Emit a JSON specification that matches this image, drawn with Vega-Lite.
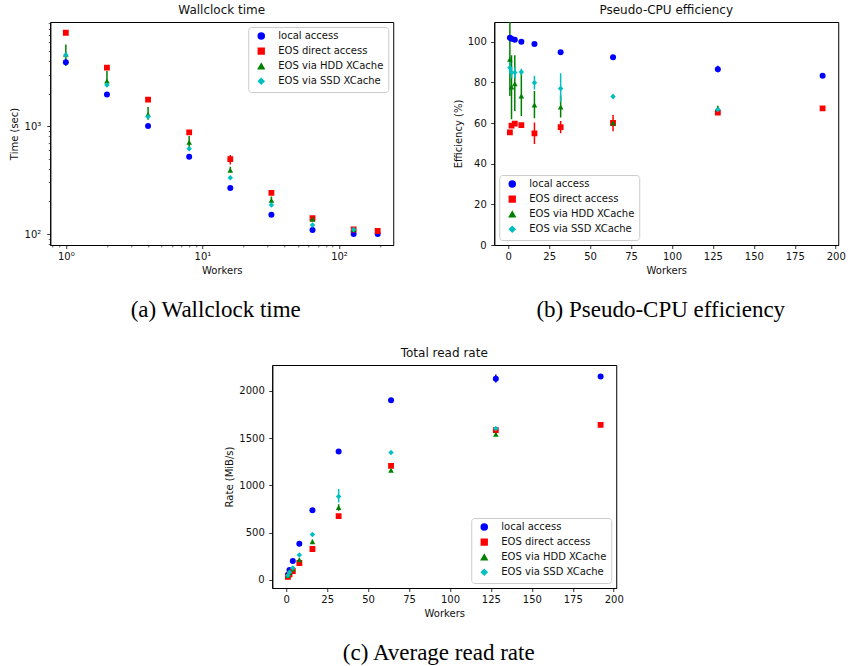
{
  "$schema": "https://vega.github.io/schema/vega-lite/v6.json",
  "background": "white",
  "padding": {"left": 8, "top": 3, "right": 5, "bottom": 5},
  "datasets": {
    "time": [
      {"w":1,"s":"local access","v":3890,"lo":3890,"hi":3890},
      {"w":2,"s":"local access","v":1963,"lo":1963,"hi":1963},
      {"w":4,"s":"local access","v":1000,"lo":1000,"hi":1000},
      {"w":8,"s":"local access","v":520,"lo":520,"hi":520},
      {"w":16,"s":"local access","v":267,"lo":267,"hi":267},
      {"w":32,"s":"local access","v":151,"lo":151,"hi":151},
      {"w":64,"s":"local access","v":109,"lo":109,"hi":109},
      {"w":128,"s":"local access","v":100,"lo":100,"hi":100},
      {"w":192,"s":"local access","v":100,"lo":100,"hi":100},
      {"w":1,"s":"EOS direct access","v":7310,"lo":7310,"hi":7310},
      {"w":2,"s":"EOS direct access","v":3470,"lo":3470,"hi":3470},
      {"w":4,"s":"EOS direct access","v":1754,"lo":1754,"hi":1754},
      {"w":8,"s":"EOS direct access","v":874,"lo":874,"hi":874},
      {"w":16,"s":"EOS direct access","v":494,"lo":441,"hi":538},
      {"w":32,"s":"EOS direct access","v":240,"lo":240,"hi":240},
      {"w":64,"s":"EOS direct access","v":140,"lo":134,"hi":147},
      {"w":128,"s":"EOS direct access","v":110,"lo":110,"hi":110},
      {"w":192,"s":"EOS direct access","v":106.6,"lo":106.6,"hi":106.6},
      {"w":1,"s":"EOS via HDD XCache","v":4617,"lo":3594,"hi":5700},
      {"w":2,"s":"EOS via HDD XCache","v":2610,"lo":2297,"hi":3228},
      {"w":4,"s":"EOS via HDD XCache","v":1283,"lo":1144,"hi":1500},
      {"w":8,"s":"EOS via HDD XCache","v":706,"lo":630,"hi":808},
      {"w":16,"s":"EOS via HDD XCache","v":389,"lo":375,"hi":420},
      {"w":32,"s":"EOS via HDD XCache","v":205,"lo":195,"hi":222},
      {"w":64,"s":"EOS via HDD XCache","v":137,"lo":137,"hi":137},
      {"w":128,"s":"EOS via HDD XCache","v":110,"lo":110,"hi":110},
      {"w":1,"s":"EOS via SSD XCache","v":4550,"lo":4550,"hi":4550},
      {"w":2,"s":"EOS via SSD XCache","v":2398,"lo":2398,"hi":2398},
      {"w":4,"s":"EOS via SSD XCache","v":1219,"lo":1219,"hi":1219},
      {"w":8,"s":"EOS via SSD XCache","v":617,"lo":617,"hi":617},
      {"w":16,"s":"EOS via SSD XCache","v":332,"lo":332,"hi":332},
      {"w":32,"s":"EOS via SSD XCache","v":186,"lo":178,"hi":196},
      {"w":64,"s":"EOS via SSD XCache","v":121,"lo":121,"hi":121},
      {"w":128,"s":"EOS via SSD XCache","v":110,"lo":110,"hi":110}
    ],
    "eff": [
      {"w":1,"s":"local access","v":102.0,"lo":102.0,"hi":102.0},
      {"w":2,"s":"local access","v":101.5,"lo":101.5,"hi":101.5},
      {"w":4,"s":"local access","v":101.0,"lo":101.0,"hi":101.0},
      {"w":8,"s":"local access","v":100.0,"lo":100.0,"hi":100.0},
      {"w":16,"s":"local access","v":98.9,"lo":98.9,"hi":98.9},
      {"w":32,"s":"local access","v":94.8,"lo":94.8,"hi":94.8},
      {"w":64,"s":"local access","v":92.3,"lo":92.3,"hi":92.3},
      {"w":128,"s":"local access","v":86.4,"lo":85.0,"hi":88.2},
      {"w":192,"s":"local access","v":83.3,"lo":82.8,"hi":84.0},
      {"w":1,"s":"EOS direct access","v":55.4,"lo":55.4,"hi":55.4},
      {"w":2,"s":"EOS direct access","v":58.7,"lo":58.7,"hi":58.7},
      {"w":4,"s":"EOS direct access","v":59.7,"lo":59.7,"hi":59.7},
      {"w":8,"s":"EOS direct access","v":59.0,"lo":59.0,"hi":59.0},
      {"w":16,"s":"EOS direct access","v":54.9,"lo":49.7,"hi":60.2},
      {"w":32,"s":"EOS direct access","v":58.0,"lo":55.0,"hi":61.0},
      {"w":64,"s":"EOS direct access","v":60.0,"lo":56.0,"hi":64.0},
      {"w":128,"s":"EOS direct access","v":65.1,"lo":65.1,"hi":65.1},
      {"w":192,"s":"EOS direct access","v":67.2,"lo":66.5,"hi":68.0},
      {"w":1,"s":"EOS via HDD XCache","v":91.3,"lo":73.3,"hi":112.0},
      {"w":2,"s":"EOS via HDD XCache","v":77.7,"lo":61.8,"hi":93.3},
      {"w":4,"s":"EOS via HDD XCache","v":79.3,"lo":65.9,"hi":93.3},
      {"w":8,"s":"EOS via HDD XCache","v":73.3,"lo":63.4,"hi":84.8},
      {"w":16,"s":"EOS via HDD XCache","v":68.9,"lo":62.3,"hi":75.7},
      {"w":32,"s":"EOS via HDD XCache","v":67.9,"lo":62.7,"hi":73.5},
      {"w":64,"s":"EOS via HDD XCache","v":60.0,"lo":58.5,"hi":61.5},
      {"w":128,"s":"EOS via HDD XCache","v":67.2,"lo":66.0,"hi":68.5},
      {"w":1,"s":"EOS via SSD XCache","v":87.2,"lo":84.5,"hi":90.0},
      {"w":2,"s":"EOS via SSD XCache","v":84.8,"lo":82.0,"hi":87.5},
      {"w":4,"s":"EOS via SSD XCache","v":84.8,"lo":82.0,"hi":87.5},
      {"w":8,"s":"EOS via SSD XCache","v":85.1,"lo":83.5,"hi":86.7},
      {"w":16,"s":"EOS via SSD XCache","v":79.8,"lo":76.5,"hi":83.2},
      {"w":32,"s":"EOS via SSD XCache","v":77.0,"lo":70.3,"hi":84.5},
      {"w":64,"s":"EOS via SSD XCache","v":73.1,"lo":72.0,"hi":74.2},
      {"w":128,"s":"EOS via SSD XCache","v":66.6,"lo":66.6,"hi":66.6}
    ],
    "rate": [
      {"w":1,"s":"local access","v":53,"lo":53,"hi":53},
      {"w":2,"s":"local access","v":102,"lo":102,"hi":102},
      {"w":4,"s":"local access","v":198,"lo":198,"hi":198},
      {"w":8,"s":"local access","v":380,"lo":380,"hi":380},
      {"w":16,"s":"local access","v":737,"lo":737,"hi":737},
      {"w":32,"s":"local access","v":1358,"lo":1358,"hi":1358},
      {"w":64,"s":"local access","v":1901,"lo":1901,"hi":1901},
      {"w":128,"s":"local access","v":2130,"lo":2090,"hi":2175},
      {"w":192,"s":"local access","v":2152,"lo":2152,"hi":2152},
      {"w":1,"s":"EOS direct access","v":29,"lo":29,"hi":29},
      {"w":2,"s":"EOS direct access","v":57,"lo":57,"hi":57},
      {"w":4,"s":"EOS direct access","v":92,"lo":92,"hi":92},
      {"w":8,"s":"EOS direct access","v":177,"lo":177,"hi":177},
      {"w":16,"s":"EOS direct access","v":325,"lo":325,"hi":325},
      {"w":32,"s":"EOS direct access","v":674,"lo":674,"hi":674},
      {"w":64,"s":"EOS direct access","v":1206,"lo":1206,"hi":1206},
      {"w":128,"s":"EOS direct access","v":1585,"lo":1585,"hi":1585},
      {"w":192,"s":"EOS direct access","v":1640,"lo":1640,"hi":1640},
      {"w":1,"s":"EOS via HDD XCache","v":45,"lo":45,"hi":45},
      {"w":2,"s":"EOS via HDD XCache","v":75,"lo":75,"hi":75},
      {"w":4,"s":"EOS via HDD XCache","v":113,"lo":113,"hi":113},
      {"w":8,"s":"EOS via HDD XCache","v":212,"lo":200,"hi":225},
      {"w":16,"s":"EOS via HDD XCache","v":402,"lo":380,"hi":425},
      {"w":32,"s":"EOS via HDD XCache","v":765,"lo":730,"hi":800},
      {"w":64,"s":"EOS via HDD XCache","v":1160,"lo":1160,"hi":1160},
      {"w":128,"s":"EOS via HDD XCache","v":1541,"lo":1520,"hi":1565},
      {"w":1,"s":"EOS via SSD XCache","v":45,"lo":45,"hi":45},
      {"w":2,"s":"EOS via SSD XCache","v":80,"lo":80,"hi":80},
      {"w":4,"s":"EOS via SSD XCache","v":124,"lo":124,"hi":124},
      {"w":8,"s":"EOS via SSD XCache","v":262,"lo":262,"hi":262},
      {"w":16,"s":"EOS via SSD XCache","v":480,"lo":465,"hi":495},
      {"w":32,"s":"EOS via SSD XCache","v":882,"lo":818,"hi":960},
      {"w":64,"s":"EOS via SSD XCache","v":1347,"lo":1347,"hi":1347},
      {"w":128,"s":"EOS via SSD XCache","v":1601,"lo":1601,"hi":1601}
    ]
  },
  "config": {
    "font": "DejaVu Sans",
    "view": {"stroke": "black", "strokeWidth": 1},
    "axis": {"grid": false, "domainColor": "black", "domainWidth": 1, "tickColor": "black", "tickSize": 3.5, "tickWidth": 0.8, "labelColor": "#111111", "labelFontSize": 10, "labelFont": "DejaVu Sans", "titleFont": "DejaVu Sans", "titleFontSize": 10, "titleFontWeight": "normal", "titleColor": "#111111", "labelPadding": 3, "titlePadding": 4, "labelFlush": false, "labelOverlap": false},
    "axisX": {"labelAngle": 0},
    "axisY": {"labelPadding": 4.5},
    "title": {"font": "DejaVu Sans", "fontSize": 12, "fontWeight": "normal", "color": "#111111", "offset": 5},
    "legend": {"strokeColor": "#cccccc", "fillColor": "white", "cornerRadius": 3, "padding": 4, "labelFontSize": 10, "labelFont": "DejaVu Sans", "labelColor": "#111111", "rowPadding": 3.1, "labelOffset": 12, "symbolOffset": 4, "offset": 5}
  },
  "resolve": {"scale": {"color": "independent", "shape": "independent", "size": "independent"}},
  "center": true,
  "spacing": 24,
  "vconcat": [
    {
      "spacing": 58,
      "resolve": {"scale": {"color": "independent", "shape": "independent", "size": "independent"}},
      "hconcat": [
        {
          "title": {"text": "Wallclock time"},
          "width": 343,
          "height": 223,
          "data": {"name": "time"},
          "resolve": {"axis": {"x": "independent", "y": "independent"}},
          "layer": [
            {
              "mark": {"type": "rule", "strokeWidth": 1.5, "clip": true},
              "encoding": {
                "x": {"field": "w", "type": "quantitative", "scale": {"type": "log", "domain": [0.769, 249.6], "nice": false, "zero": false}, "axis": {"orient": "bottom", "values": [0.8, 0.9, 2, 3, 4, 5, 6, 7, 8, 9, 20, 30, 40, 50, 60, 70, 80, 90, 200], "labels": false, "domain": false, "tickSize": 2, "tickWidth": 0.6, "title": "(a) Wallclock time", "titleFont": "Liberation Serif", "titleFontSize": 23, "titleColor": "black", "titlePadding": 51, "titleX": 165}},
                "y": {"field": "lo", "type": "quantitative", "scale": {"type": "log", "domain": [79.1, 9190], "nice": false, "zero": false}, "axis": {"orient": "left", "values": [80, 90, 200, 300, 400, 500, 600, 700, 800, 900, 2000, 3000, 4000, 5000, 6000, 7000, 8000, 9000], "labels": false, "domain": false, "tickSize": 2, "tickWidth": 0.6, "title": null}},
                "y2": {"field": "hi"},
                "color": {"field": "s", "type": "nominal", "scale": {"domain": ["local access", "EOS direct access", "EOS via HDD XCache", "EOS via SSD XCache"], "range": ["#0000ff", "#ff0000", "#008000", "#00bfbf"]}, "legend": {"title": null, "orient": "top-right"}}
              }
            },
            {
              "mark": {"type": "point", "filled": true, "opacity": 1, "clip": true},
              "encoding": {
                "x": {"field": "w", "type": "quantitative", "scale": {"type": "log", "domain": [0.769, 249.6], "nice": false, "zero": false}, "axis": {"orient": "bottom", "values": [1, 10, 100], "labelExpr": "datum.value == 1 ? '10⁰' : datum.value == 10 ? '10¹' : '10²'", "title": "Workers"}},
                "y": {"field": "v", "type": "quantitative", "scale": {"type": "log", "domain": [79.1, 9190], "nice": false, "zero": false}, "axis": {"orient": "left", "values": [100, 1000], "labelExpr": "datum.value == 100 ? '10²' : '10³'", "title": "Time (sec)", "labelPadding": 6, "titlePadding": 5}},
                "color": {"field": "s", "type": "nominal", "scale": {"domain": ["local access", "EOS direct access", "EOS via HDD XCache", "EOS via SSD XCache"], "range": ["#0000ff", "#ff0000", "#008000", "#00bfbf"]}, "legend": {"title": null, "orient": "top-right"}},
                "shape": {"field": "s", "type": "nominal", "scale": {"domain": ["local access", "EOS direct access", "EOS via HDD XCache", "EOS via SSD XCache"], "range": ["circle", "square", "triangle-up", "diamond"]}, "legend": {"title": null, "orient": "top-right"}},
                "size": {"field": "s", "type": "nominal", "scale": {"domain": ["local access", "EOS direct access", "EOS via HDD XCache", "EOS via SSD XCache"], "range": [36, 30, 36, 72]}, "legend": {"title": null, "orient": "top-right"}}
              }
            }
          ]
        },
        {
          "title": {"text": "Pseudo-CPU efficiency"},
          "width": 344,
          "height": 223,
          "data": {"name": "eff"},
          "resolve": {"axis": {"x": "independent"}},
          "layer": [
            {
              "mark": {"type": "rule", "strokeWidth": 1.5, "clip": true},
              "encoding": {
                "x": {"field": "w", "type": "quantitative", "scale": {"domain": [-8.55, 201.55], "nice": false, "zero": false}, "axis": {"orient": "bottom", "ticks": false, "labels": false, "domain": false, "title": "(b) Pseudo-CPU efficiency", "titleFont": "Liberation Serif", "titleFontSize": 23, "titleColor": "black", "titlePadding": 53, "titleX": 166}},
                "y": {"field": "lo", "type": "quantitative", "scale": {"domain": [0, 109.7], "nice": false}, "axis": {"values": [0, 20, 40, 60, 80, 100], "title": "Efficiency (%)"}},
                "y2": {"field": "hi"},
                "color": {"field": "s", "type": "nominal", "scale": {"domain": ["local access", "EOS direct access", "EOS via HDD XCache", "EOS via SSD XCache"], "range": ["#0000ff", "#ff0000", "#008000", "#00bfbf"]}, "legend": {"title": null, "orient": "bottom-left"}}
              }
            },
            {
              "mark": {"type": "point", "filled": true, "opacity": 1, "clip": true},
              "encoding": {
                "x": {"field": "w", "type": "quantitative", "scale": {"domain": [-8.55, 201.55], "nice": false, "zero": false}, "axis": {"orient": "bottom", "values": [0, 25, 50, 75, 100, 125, 150, 175, 200], "title": "Workers"}},
                "y": {"field": "v", "type": "quantitative", "scale": {"domain": [0, 109.7], "nice": false}, "axis": {"values": [0, 20, 40, 60, 80, 100], "title": "Efficiency (%)"}},
                "color": {"field": "s", "type": "nominal", "scale": {"domain": ["local access", "EOS direct access", "EOS via HDD XCache", "EOS via SSD XCache"], "range": ["#0000ff", "#ff0000", "#008000", "#00bfbf"]}, "legend": {"title": null, "orient": "bottom-left"}},
                "shape": {"field": "s", "type": "nominal", "scale": {"domain": ["local access", "EOS direct access", "EOS via HDD XCache", "EOS via SSD XCache"], "range": ["circle", "square", "triangle-up", "diamond"]}, "legend": {"title": null, "orient": "bottom-left"}},
                "size": {"field": "s", "type": "nominal", "scale": {"domain": ["local access", "EOS direct access", "EOS via HDD XCache", "EOS via SSD XCache"], "range": [36, 30, 36, 72]}, "legend": {"title": null, "orient": "bottom-left"}}
              }
            }
          ]
        }
      ]
    },
    {
      "title": {"text": "Total read rate"},
      "width": 344,
      "height": 223,
      "data": {"name": "rate"},
      "resolve": {"axis": {"x": "independent"}},
      "layer": [
        {
          "mark": {"type": "rule", "strokeWidth": 1.5, "clip": true},
          "encoding": {
            "x": {"field": "w", "type": "quantitative", "scale": {"domain": [-8.55, 201.55], "nice": false, "zero": false}, "axis": {"orient": "bottom", "ticks": false, "labels": false, "domain": false, "title": "(c) Average read rate", "titleFont": "Liberation Serif", "titleFontSize": 23, "titleColor": "black", "titlePadding": 53, "titleX": 166}},
            "y": {"field": "lo", "type": "quantitative", "scale": {"domain": [-88, 2275], "nice": false, "zero": false}, "axis": {"values": [0, 500, 1000, 1500, 2000], "format": "d", "title": "Rate (MiB/s)"}},
            "y2": {"field": "hi"},
            "color": {"field": "s", "type": "nominal", "scale": {"domain": ["local access", "EOS direct access", "EOS via HDD XCache", "EOS via SSD XCache"], "range": ["#0000ff", "#ff0000", "#008000", "#00bfbf"]}, "legend": {"title": null, "orient": "bottom-right"}}
          }
        },
        {
          "mark": {"type": "point", "filled": true, "opacity": 1, "clip": true},
          "encoding": {
            "x": {"field": "w", "type": "quantitative", "scale": {"domain": [-8.55, 201.55], "nice": false, "zero": false}, "axis": {"orient": "bottom", "values": [0, 25, 50, 75, 100, 125, 150, 175, 200], "title": "Workers"}},
            "y": {"field": "v", "type": "quantitative", "scale": {"domain": [-88, 2275], "nice": false, "zero": false}, "axis": {"values": [0, 500, 1000, 1500, 2000], "format": "d", "title": "Rate (MiB/s)"}},
            "color": {"field": "s", "type": "nominal", "scale": {"domain": ["local access", "EOS direct access", "EOS via HDD XCache", "EOS via SSD XCache"], "range": ["#0000ff", "#ff0000", "#008000", "#00bfbf"]}, "legend": {"title": null, "orient": "bottom-right"}},
            "shape": {"field": "s", "type": "nominal", "scale": {"domain": ["local access", "EOS direct access", "EOS via HDD XCache", "EOS via SSD XCache"], "range": ["circle", "square", "triangle-up", "diamond"]}, "legend": {"title": null, "orient": "bottom-right"}},
            "size": {"field": "s", "type": "nominal", "scale": {"domain": ["local access", "EOS direct access", "EOS via HDD XCache", "EOS via SSD XCache"], "range": [36, 30, 36, 72]}, "legend": {"title": null, "orient": "bottom-right"}}
          }
        }
      ]
    }
  ]
}
